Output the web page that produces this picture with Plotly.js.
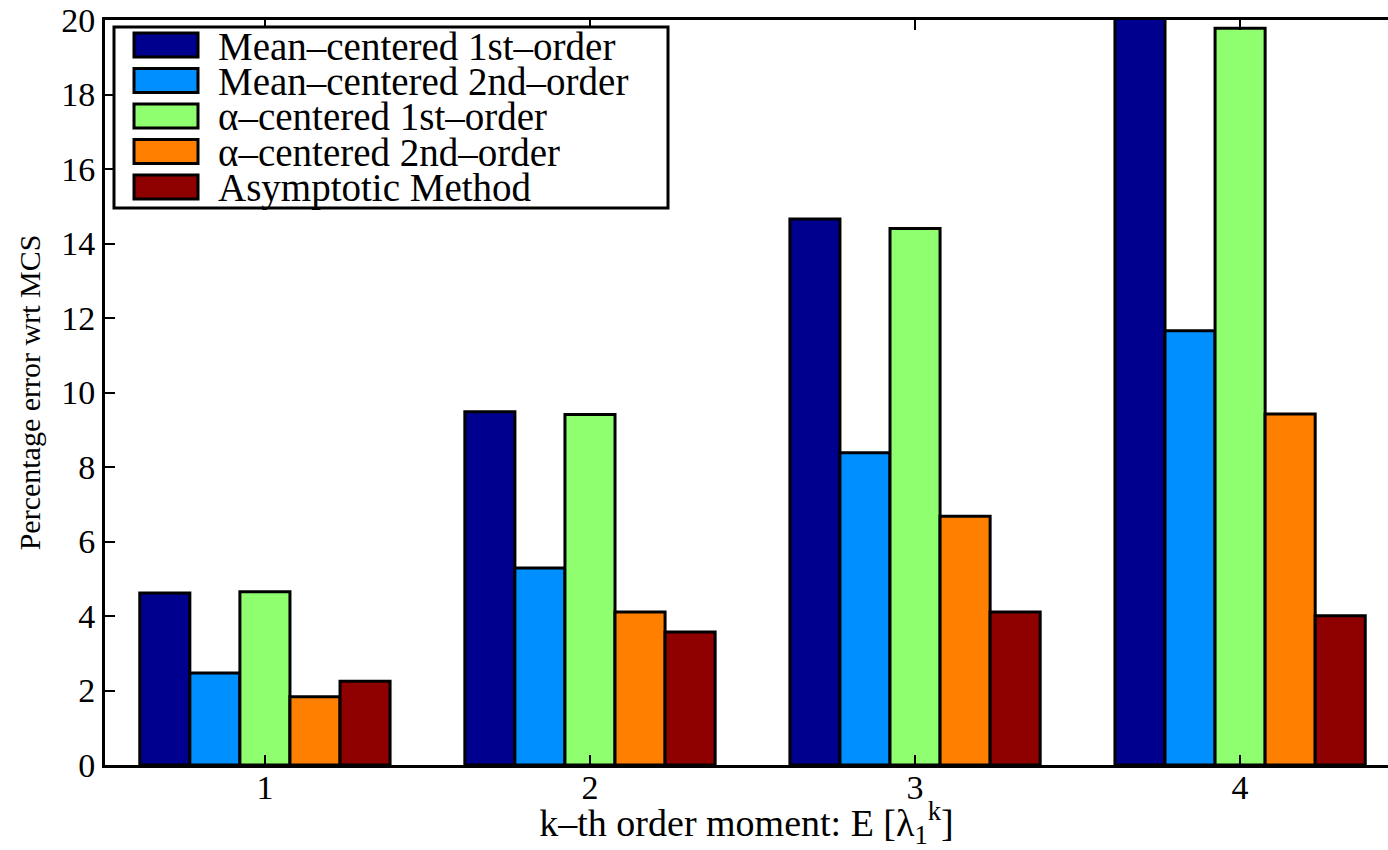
<!DOCTYPE html>
<html>
<head>
<meta charset="utf-8">
<script src="https://cdn.plot.ly/plotly-3.0.1.min.js"></script>
<style>html,body{margin:0;padding:0;background:#fff;}#chart{width:1388px;height:850px;}</style>
</head>
<body>
<div id="chart"></div>
<script>
// ---- data ----
const categories = [1, 2, 3, 4];
const seriesNames = [
  "Mean–centered 1st–order",
  "Mean–centered 2nd–order",
  "α–centered 1st–order",
  "α–centered 2nd–order",
  "Asymptotic Method"
];
const meanCentered1st = [4.62, 9.48, 14.66, 20.6];
const meanCentered2nd = [2.47, 5.29, 8.38, 11.66];
const alphaCentered1st = [4.65, 9.41, 14.40, 19.78];
const alphaCentered2nd = [1.83, 4.11, 6.68, 9.42];
const asymptotic = [2.25, 3.57, 4.11, 4.01];
const seriesColors = ["#00008F", "#008FFF", "#8FFF70", "#FF8000", "#8F0000"];
const yTickVals = [0, 2, 4, 6, 8, 10, 12, 14, 16, 18, 20];

const allSeries = [meanCentered1st, meanCentered2nd, alphaCentered1st, alphaCentered2nd, asymptotic];

// ---- layout geometry (pixels) ----
const W = 1388, H = 850;
const M = {l: 105, r: 0, t: 20, b: 85};
const plotW = W - M.l - M.r, plotH = H - M.t - M.b;
const px = X => (X - M.l) / plotW;
const py = Y => (H - M.b - Y) / plotH;

const FONT = "Liberation Serif";

const traces = allSeries.map((vals, i) => ({
  type: "bar",
  x: categories,
  y: vals,
  name: seriesNames[i],
  marker: {color: seriesColors[i], line: {color: "#000", width: 3}},
  showlegend: false
}));

// custom legend (large swatches like the original)
const shapes = [];
const annotations = [];
shapes.push({type: "rect", xref: "paper", yref: "paper",
  x0: px(114), x1: px(668), y0: py(208), y1: py(27),
  fillcolor: "#fff", line: {color: "#000", width: 3}, layer: "above"});
const rowY0 = 45, rowDY = 35.5;
seriesNames.forEach((nm, i) => {
  const cy = rowY0 + i * rowDY;
  shapes.push({type: "rect", xref: "paper", yref: "paper",
    x0: px(134), x1: px(198), y0: py(cy + 12), y1: py(cy - 12),
    fillcolor: seriesColors[i], line: {color: "#000", width: 3}, layer: "above"});
  annotations.push({xref: "paper", yref: "paper", x: px(216), y: py(cy + 1),
    xanchor: "left", yanchor: "middle", showarrow: false, text: nm,
    font: {family: FONT, size: 39, color: "#000"}});
});

const layout = {
  width: W, height: H,
  margin: M,
  paper_bgcolor: "#fff", plot_bgcolor: "#fff",
  barmode: "group", bargap: 0.23, bargroupgap: 0,
  showlegend: false,
  font: {family: FONT, color: "#000"},
  xaxis: {
    range: [0.508, 4.455],
    tickvals: categories,
    ticktext: categories.map(String),
    ticks: "inside", ticklen: 10, tickwidth: 2, tickcolor: "#000",
    showline: true, linecolor: "#000", linewidth: 3, mirror: "allticks",
    showgrid: false, zeroline: false,
    tickfont: {family: FONT, size: 34, color: "#000"},
    ticklabelstandoff: -10,
    title: {text: "k–th order moment: E [λ<sub>1</sub><sup>k</sup>]",
            font: {family: FONT, size: 38, color: "#000"}, standoff: 6},
    automargin: false
  },
  yaxis: {
    range: [0, 20],
    tickvals: yTickVals,
    ticks: "inside", ticklen: 10, tickwidth: 2, tickcolor: "#000",
    showline: true, linecolor: "#000", linewidth: 3, mirror: false,
    showgrid: false, zeroline: false,
    tickfont: {family: FONT, size: 34, color: "#000"},
    title: {text: "Percentage error wrt MCS",
            font: {family: FONT, size: 30, color: "#000"}, standoff: 12},
    automargin: false
  },
  shapes: shapes,
  annotations: annotations
};

Plotly.newPlot("chart", traces, layout, {displayModeBar: false, staticPlot: true});
</script>
</body>
</html>
